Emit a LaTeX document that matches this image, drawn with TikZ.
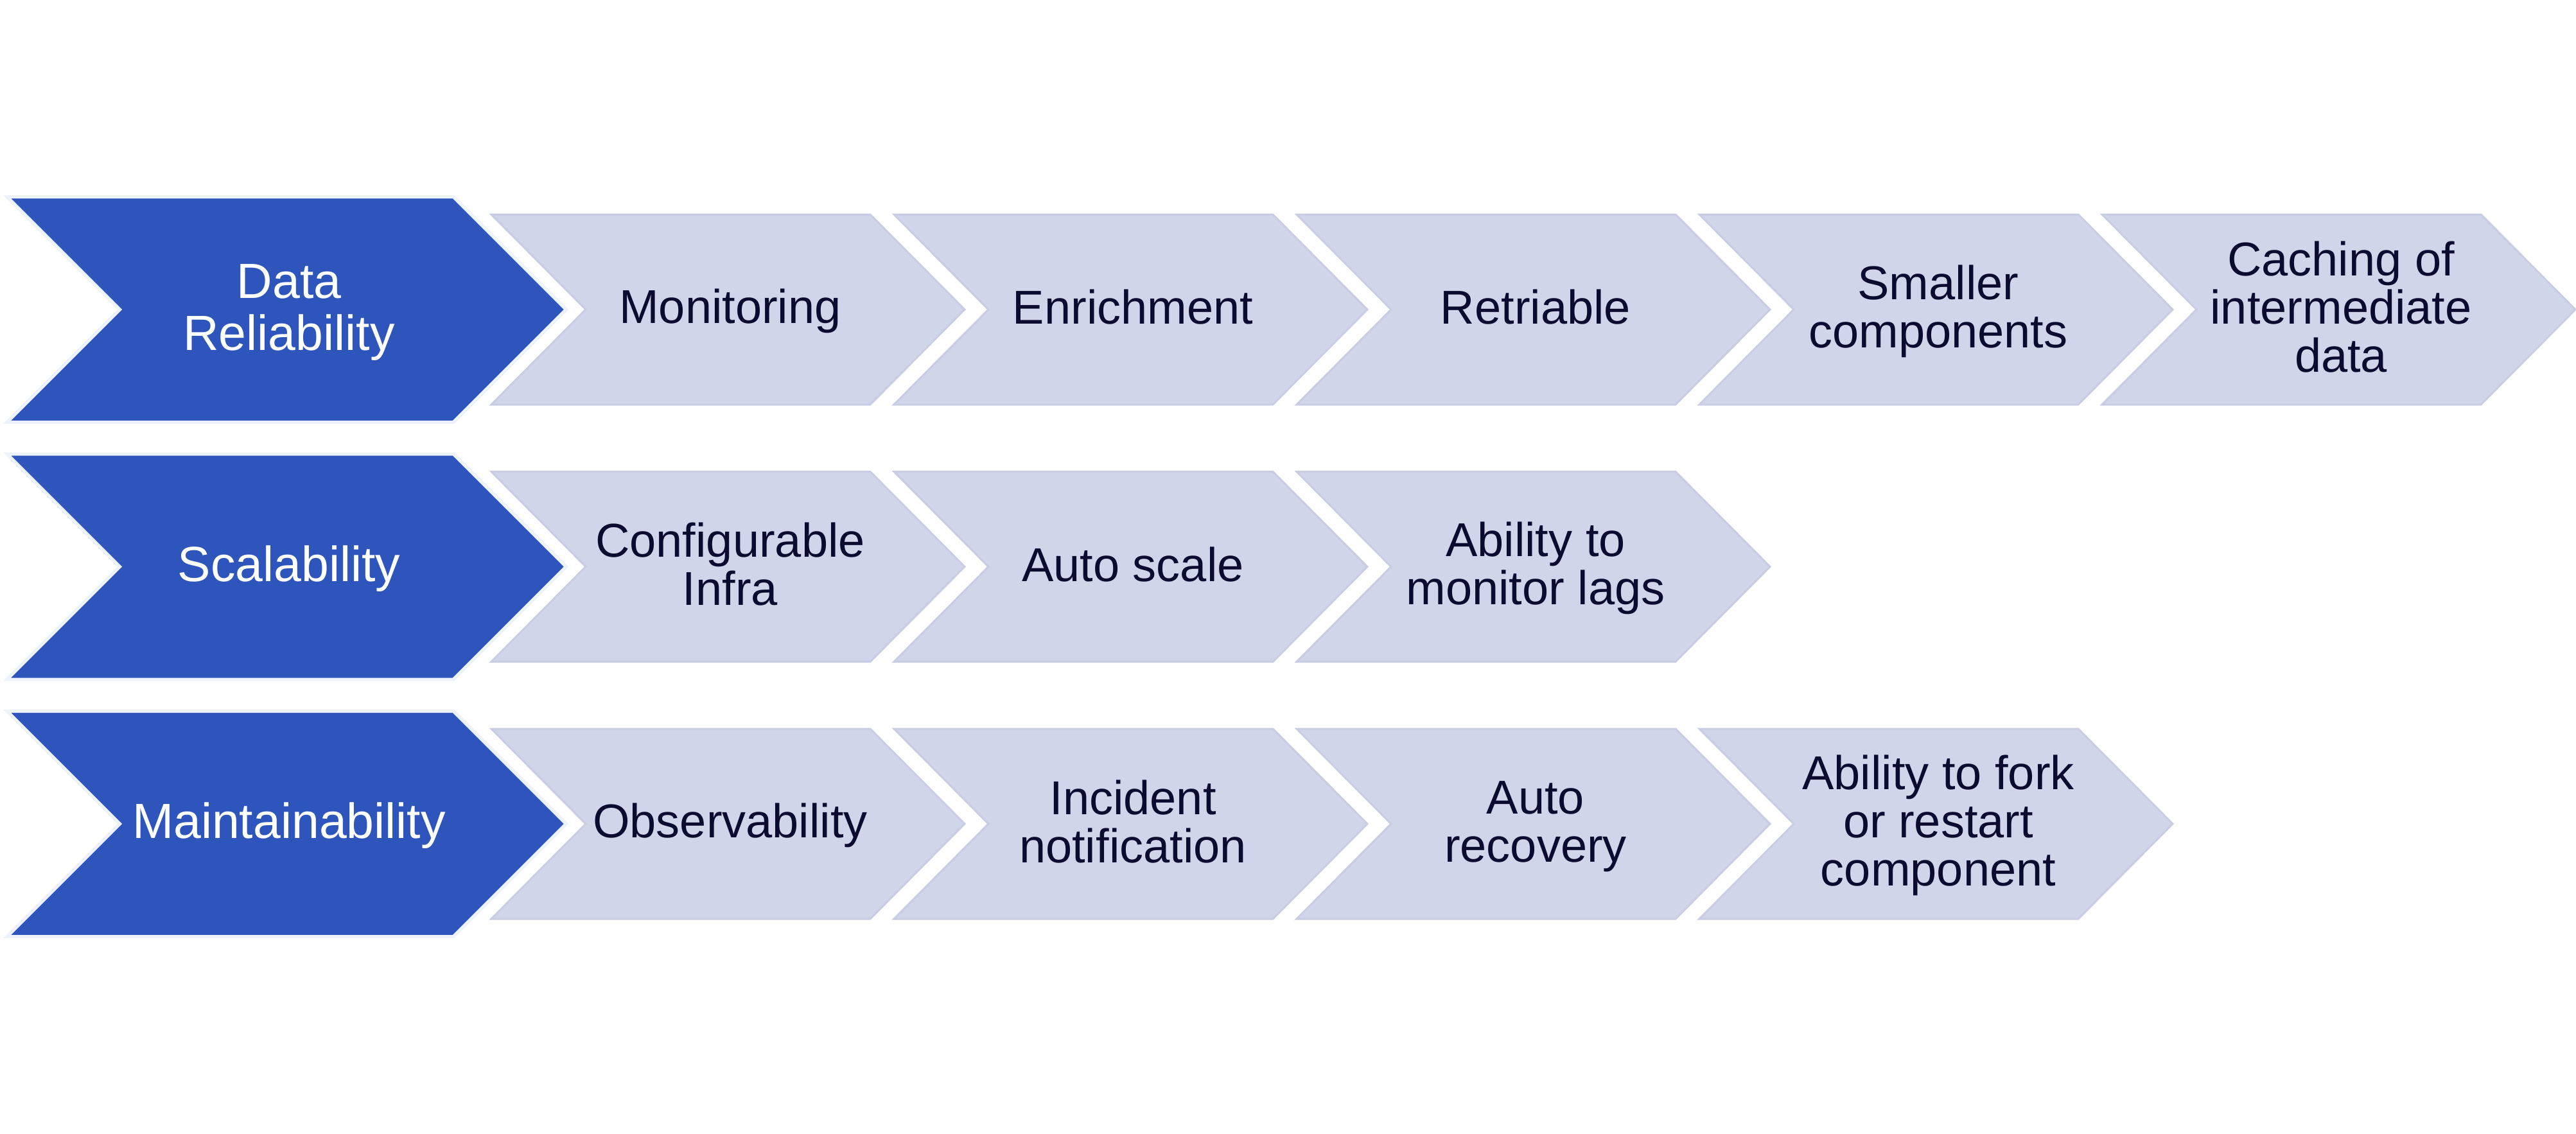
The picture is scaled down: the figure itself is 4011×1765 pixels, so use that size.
\documentclass[tikz,border=0pt]{standalone}
\usepackage{fontspec}
\setmainfont{Liberation Sans}
\definecolor{darkfill}{HTML}{2E55BC}
\definecolor{darkline}{HTML}{EEF2FA}
\definecolor{lightfill}{HTML}{D0D5E9}
\definecolor{lightline}{HTML}{C8CDE4}
\definecolor{navytext}{HTML}{0B0B30}
\newcommand\lstrut{\rule[-0.18em]{0pt}{0.98em}}
\tikzset{
  darkchev/.style={fill=darkfill, draw=darkline, line width=1.25pt, line join=miter},
  lightchev/.style={fill=lightfill, draw=lightline, line width=0.75pt, line join=miter},
  darktext/.style={inner sep=0pt, align=center, text=white, font=\fontsize{19.25pt}{20.4pt}\selectfont},
  lighttext/.style={inner sep=0pt, align=center, text=navytext, font=\fontsize{18.5pt}{18.75pt}\selectfont},
}
% dark chevron: #1 name, #2 centre y, #3 text
\newcommand\darkrow[3]{%
  \path[darkchev] (11,{#2-175.5}) -- (706,{#2-175.5}) -- (881.5,#2) -- (706,{#2+175.5}) -- (11,{#2+175.5}) -- (186.5,#2) -- cycle;
  \node[darktext] (#1) at (450,#2) {#3};
}
% light chevron: #1 name, #2 left x, #3 centre y, #4 text
\newcommand\lightchv[4]{%
  \path[lightchev] (#2,{#3-148}) -- ({#2+590},{#3-148}) -- ({#2+737},#3) -- ({#2+590},{#3+148}) -- (#2,{#3+148}) -- ({#2+147},#3) -- cycle;
  \node[lighttext] (#1) at ({#2+372},#3) {#4};
}
\begin{document}
\begin{tikzpicture}[x=0.25pt,y=-0.25pt]
\useasboundingbox (0,0) rectangle (4011,1765);
% row 1
\darkrow{reliability}{482}{\lstrut Data\\\lstrut Reliability}
\lightchv{monitoring}{765}{482}{\lstrut Monitoring}
\lightchv{enrichment}{1392}{482}{\lstrut Enrichment}
\lightchv{retriable}{2019}{482}{\lstrut Retriable}
\lightchv{smaller}{2646}{482}{\lstrut Smaller\\\lstrut components}
\lightchv{caching}{3273}{482}{\lstrut Caching of\\\lstrut intermediate\\\lstrut data}
% row 2
\darkrow{scalability}{882.5}{\lstrut Scalability}
\lightchv{configinfra}{765}{882.5}{\lstrut Configurable\\\lstrut Infra}
\lightchv{autoscale}{1392}{882.5}{\lstrut Auto scale}
\lightchv{monitorlags}{2019}{882.5}{\lstrut Ability to\\\lstrut monitor lags}
% row 3
\darkrow{maintain}{1283}{\lstrut Maintainability}
\lightchv{observ}{765}{1283}{\lstrut Observability}
\lightchv{incident}{1392}{1283}{\lstrut Incident\\\lstrut notification}
\lightchv{autorecov}{2019}{1283}{\lstrut Auto\\\lstrut recovery}
\lightchv{fork}{2646}{1283}{\lstrut Ability to fork\\\lstrut or restart\\\lstrut component}
\end{tikzpicture}
\end{document}
